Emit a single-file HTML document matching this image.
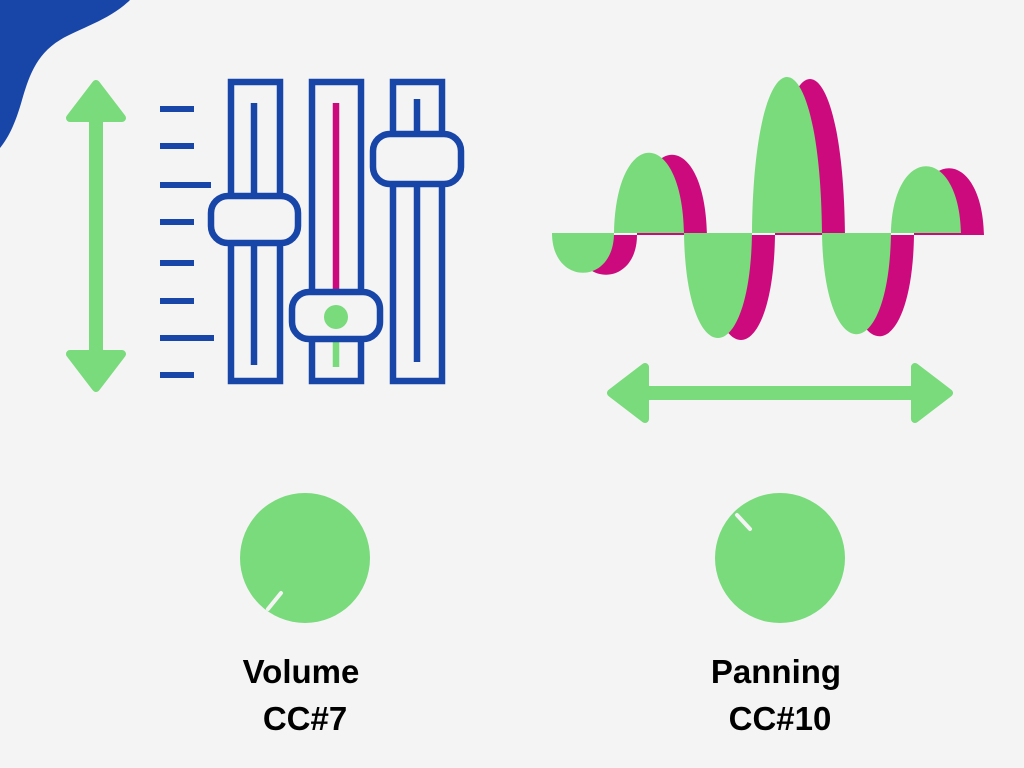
<!DOCTYPE html>
<html><head><style>
html,body{margin:0;padding:0;background:#f4f4f4;}
svg{display:block}
text{font-family:"Liberation Sans",Arial,sans-serif;font-weight:bold;fill:#000}
</style></head><body>
<svg width="1024" height="768" viewBox="0 0 1024 768" xmlns="http://www.w3.org/2000/svg">
<rect width="1024" height="768" fill="#f4f4f4"/>
<path d="M0,0 L130,0 C110,20 80,28 60,40 C35,55 28,80 22,100 C15,125 8,138 0,148 Z" fill="#1846a8"/>
<g fill="#79db7c" stroke="#79db7c" stroke-linejoin="round" stroke-width="8">
<line x1="96" y1="110" x2="96" y2="360" stroke-width="14"/>
<polygon points="96,84 122,118 70,118"/>
<polygon points="96,388 122,354 70,354"/>
<line x1="640" y1="393" x2="920" y2="393" stroke-width="14"/>
<polygon points="611,393 645,367 645,419"/>
<polygon points="949,393 915,367 915,419"/>
</g>
<g stroke="#1846a8" stroke-width="6">
<line x1="160" y1="109" x2="194" y2="109"/>
<line x1="160" y1="146" x2="194" y2="146"/>
<line x1="160" y1="185" x2="211" y2="185"/>
<line x1="160" y1="222" x2="194" y2="222"/>
<line x1="160" y1="263" x2="194" y2="263"/>
<line x1="160" y1="301" x2="194" y2="301"/>
<line x1="160" y1="338" x2="214" y2="338"/>
<line x1="160" y1="375" x2="194" y2="375"/>
</g>
<g fill="none" stroke="#1846a8" stroke-width="6.5">
<rect x="231" y="82" width="49" height="299"/>
<rect x="312" y="82" width="49" height="299"/>
<rect x="393" y="82" width="49" height="299"/>
<line x1="254" y1="103" x2="254" y2="365"/>
<line x1="417" y1="99" x2="417" y2="362"/>
</g>
<line x1="336" y1="103" x2="336" y2="292" stroke="#cc0a7d" stroke-width="6.5"/>
<line x1="336" y1="330" x2="336" y2="367" stroke="#79db7c" stroke-width="6.5"/>
<g fill="#f4f4f4" stroke="#1846a8" stroke-width="6.5">
<rect x="211" y="196" width="87" height="47" rx="17"/>
<rect x="292" y="292" width="88" height="47" rx="17"/>
<rect x="373" y="134" width="88" height="50" rx="17"/>
</g>
<circle cx="336" cy="317" r="12" fill="#79db7c"/>
<defs>
<path id="w" d="M552,233 C552,286 614,286 614,233 C616,126 682,126 684,233 C686,373 750,373 752,233 C754,25 820,25 822,233 C824,368 889,368 891,233 C893,144 959,144 961,233 Z"/>
</defs>
<use href="#w" transform="translate(23,2)" fill="#cc0a7d"/>
<use href="#w" fill="#79db7c"/>
<circle cx="305" cy="558" r="65" fill="#79db7c"/>
<line x1="268" y1="609" x2="281" y2="593" stroke="#f4f4f4" stroke-width="4" stroke-linecap="round"/>
<circle cx="780" cy="558" r="65" fill="#79db7c"/>
<line x1="737" y1="515" x2="750" y2="529" stroke="#f4f4f4" stroke-width="4" stroke-linecap="round"/>
<text x="301" y="683" font-size="33" text-anchor="middle">Volume</text>
<text x="305" y="730" font-size="33" text-anchor="middle">CC#7</text>
<text x="776" y="683" font-size="33" text-anchor="middle">Panning</text>
<text x="780" y="730" font-size="33" text-anchor="middle">CC#10</text>
</svg>
</body></html>
